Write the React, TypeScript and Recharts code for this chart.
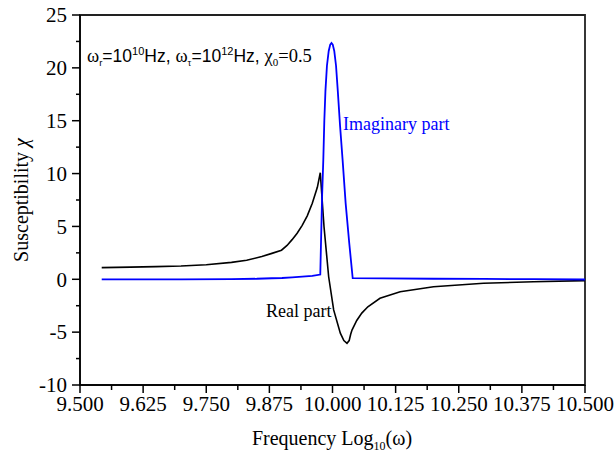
import React from 'react';
import { LineChart, Line, XAxis, YAxis, ReferenceArea } from 'recharts';

// Real part (black)
const realX = [9.543, 9.6, 9.65, 9.7, 9.75, 9.8, 9.83, 9.86, 9.88, 9.899, 9.91, 9.92, 9.93, 9.94, 9.95, 9.96, 9.97, 9.9758, 9.9832, 9.9924, 10.0023, 10.0155, 10.0225, 10.0287, 10.033, 10.036, 10.0386, 10.048, 10.058, 10.07, 10.094, 10.134, 10.2, 10.299, 10.398, 10.5];
const realY = [1.1, 1.15, 1.2, 1.25, 1.38, 1.6, 1.8, 2.15, 2.45, 2.75, 3.2, 3.75, 4.35, 5.1, 6.0, 7.2, 8.7, 10.08, 4.97, 0.24, -2.9, -5.1, -5.8, -6.06, -5.8, -5.2, -4.8, -3.9, -3.2, -2.6, -1.8, -1.18, -0.7, -0.38, -0.23, -0.13];

// Imaginary part (blue)
const imagX = [9.543, 9.6, 9.7, 9.8, 9.85, 9.88, 9.9, 9.92, 9.94, 9.96, 9.9758, 9.9775, 9.9795, 9.9818, 9.9838, 9.986, 9.989, 9.9925, 9.9955, 9.998, 10.0005, 10.0035, 10.007, 10.0105, 10.015, 10.02, 10.026, 10.033, 10.04, 10.1, 10.2, 10.3, 10.4, 10.5];
const imagY = [0.0, 0.0, 0.0, 0.02, 0.05, 0.1, 0.12, 0.18, 0.25, 0.33, 0.45, 4.0, 8.0, 11.3, 15.0, 17.8, 20.2, 21.6, 22.2, 22.35, 22.2, 21.6, 20.2, 17.8, 14.5, 11.3, 7.2, 3.5, 0.1, 0.08, 0.05, 0.03, 0.01, -0.02];

const xTicks = [9.5, 9.5625, 9.625, 9.6875, 9.75, 9.8125, 9.875, 9.9375, 10.0, 10.0625, 10.125, 10.1875, 10.25, 10.3125, 10.375, 10.4375, 10.5];
const yTicks = [-10, -7.5, -5, -2.5, 0, 2.5, 5, 7.5, 10, 12.5, 15, 17.5, 20, 22.5, 25];

const realData = realX.map((x, i) => ({ x, y: realY[i] }));
const imagData = imagX.map((x, i) => ({ x, y: imagY[i] }));

const SERIF = "'Liberation Serif', 'DejaVu Serif', serif";
const SANS = "'Liberation Sans', Arial, sans-serif";
const TS = 8;
const TM = 3;
const TICK_FONT = 21;

const XTick = (props: any) => {
  const { x, y, payload, index } = props;
  const major = index % 2 === 0;
  const ay = y - TS - TM;
  return (
    <g>
      <line x1={x} x2={x} y1={ay} y2={ay + (major ? 8 : 5)} stroke="#000" strokeWidth={1.5} />
      {major && (
        <text x={x} y={y} dy="0.71em" textAnchor="middle" fontFamily={SERIF} fontSize={TICK_FONT} fill="#000">
          {Number(payload.value).toFixed(3)}
        </text>
      )}
    </g>
  );
};

const YTick = (props: any) => {
  const { x, y, payload, index } = props;
  const major = index % 2 === 0;
  const ax = x + TS + TM + 2;
  return (
    <g>
      <line x1={ax} x2={ax - (major ? 8 : 4)} y1={y} y2={y} stroke="#000" strokeWidth={1.5} />
      {major && (
        <text x={x} y={y} dy="0.35em" textAnchor="end" fontFamily={SERIF} fontSize={TICK_FONT} fill="#000">
          {String(payload.value)}
        </text>
      )}
    </g>
  );
};

export default function App() {
  return (
    <div style={{ position: 'absolute', left: 0, top: 0, width: 615, height: 457, background: '#fff' }}>
      <LineChart width={615} height={457} margin={{ top: 15, right: 30, bottom: 0, left: 0 }}>
        <XAxis
          type="number"
          dataKey="x"
          domain={[9.5, 10.5]}
          ticks={xTicks}
          interval={0}
          height={72}
          tickSize={TS}
          tickMargin={TM}
          tickLine={false}
          tick={<XTick />}
          axisLine={{ stroke: '#000', strokeWidth: 1.5 }}
          allowDataOverflow
        />
        <YAxis
          type="number"
          dataKey="y"
          domain={[-10, 25]}
          ticks={yTicks}
          interval={0}
          width={80}
          tickSize={TS}
          tickMargin={TM + 2}
          tickLine={false}
          tick={<YTick />}
          axisLine={{ stroke: '#000', strokeWidth: 1.5 }}
          allowDataOverflow
        />
        <ReferenceArea x1={9.5} x2={10.5} y1={-10} y2={25} fill="none" stroke="#222" strokeWidth={1.8} ifOverflow="visible" />
        <Line data={realData} dataKey="y" type="linear" stroke="#000" strokeWidth={1.6} dot={false} isAnimationActive={false} />
        <Line data={imagData} dataKey="y" type="linear" stroke="#0000ff" strokeWidth={1.8} dot={false} isAnimationActive={false} />
      </LineChart>
      <svg width={615} height={457} style={{ position: 'absolute', left: 0, top: 0, pointerEvents: 'none' }}>
        <text x={87} y={62} fill="#000" fontSize={17.5} style={{ whiteSpace: 'pre' }}>
          <tspan fontFamily={SERIF} fontSize={18.5}>ω</tspan>
          <tspan fontFamily={SANS} fontSize={9.5} dy={4}>r</tspan>
          <tspan fontFamily={SANS} dy={-4}>=10</tspan>
          <tspan fontFamily={SANS} fontSize={11} dy={-7}>10</tspan>
          <tspan fontFamily={SANS} dy={7}>Hz, </tspan>
          <tspan fontFamily={SERIF} fontSize={18.5}>ω</tspan>
          <tspan fontFamily={SERIF} fontSize={9.5} dy={4}>τ</tspan>
          <tspan fontFamily={SANS} dy={-4}>=10</tspan>
          <tspan fontFamily={SANS} fontSize={11} dy={-7}>12</tspan>
          <tspan fontFamily={SANS} dy={7}>Hz, </tspan>
          <tspan fontFamily={SERIF} fontSize={18.5}>χ</tspan>
          <tspan fontFamily={SERIF} fontSize={11} dy={4}>0</tspan>
          <tspan fontFamily={SERIF} fontSize={18.5} dy={-4}>=0.5</tspan>
        </text>
        <text x={343} y={130} fill="#0000ff" fontFamily={SERIF} fontSize={18}>Imaginary part</text>
        <text x={266} y={317} fill="#000" fontFamily={SERIF} fontSize={18}>Real part</text>
        <text x={332} y={445} textAnchor="middle" fill="#000" fontFamily={SERIF} fontSize={20}>
          Frequency Log
          <tspan fontSize={12} dy={5}>10</tspan>
          <tspan dy={-5}>(ω)</tspan>
        </text>
        <text transform="translate(28,200) rotate(-90)" textAnchor="middle" fill="#000" fontFamily={SERIF} fontSize={20}>
          Susceptibility <tspan fontStyle="italic">χ</tspan>
        </text>
      </svg>
    </div>
  );
}
